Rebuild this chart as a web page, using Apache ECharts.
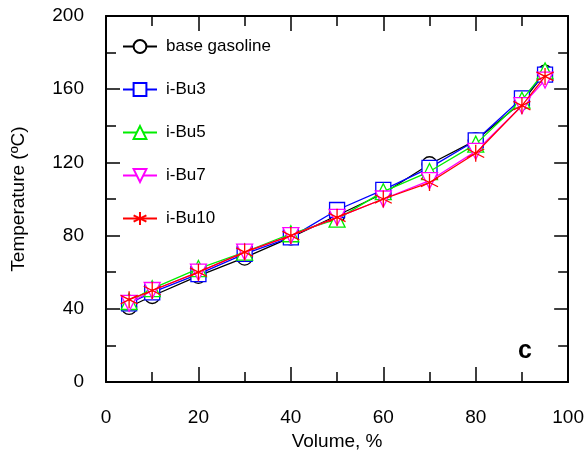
<!DOCTYPE html>
<html><head><meta charset="utf-8">
<script src="https://cdn.jsdelivr.net/npm/echarts@6/dist/echarts.min.js"></script>
<style>html,body{margin:0;padding:0;background:#fff}#c{width:587px;height:459px}</style>
</head><body><div id="c"></div>
<script>
const volume = [5, 10, 20, 30, 40, 50, 60, 70, 80, 90, 95];
const baseGasoline = [41, 47, 58, 68, 79, 91, 103, 119, 132, 153, 169];
const iBu3 = [43, 49, 59, 70, 79, 94, 105, 117, 132, 155, 168];
const iBu5 = [44, 51, 62, 71, 81, 89, 104, 115, 130, 154, 170];
const iBu7 = [43, 50, 60, 71, 80, 90, 100, 110, 126, 151, 165];
const iBu10 = [45, 50, 60, 71, 80, 90, 100, 109, 125, 151, 167];
const seriesNames = ['base gasoline', 'i-Bu3', 'i-Bu5', 'i-Bu7', 'i-Bu10'];
const xTicks = [0, 20, 40, 60, 80, 100];
const yTicks = [0, 40, 80, 120, 160, 200];

const FONT = 'Liberation Sans, Arial, sans-serif';
const asterisk = 'path://M0,-1L0,1M-0.866,-0.5L0.866,0.5M-0.866,0.5L0.866,-0.5';
const styles = [
  {color: '#000000', symbol: 'circle', size: 15},
  {color: '#0000ff', symbol: 'rect', size: 15},
  {color: '#00ee00', symbol: 'triangle', size: 16},
  {color: '#ff00ff', symbol: 'path://M0,0L2,0L1,1.7Z', size: 16},
  {color: '#ff0000', symbol: asterisk, size: 17}
];
const allData = [baseGasoline, iBu3, iBu5, iBu7, iBu10];

const chart = echarts.init(document.getElementById('c'), null, {renderer: 'canvas'});
const tickLine = {color: '#000', width: 1.5};
const axisCommon = {
  min: 0,
  axisLine: {show: true, onZero: false, lineStyle: {color: '#000', width: 2}},
  axisTick: {show: true, inside: true, length: 15, lineStyle: tickLine},
  minorTick: {show: true, splitNumber: 2, length: 10, lineStyle: tickLine},
  splitLine: {show: false}
};
chart.setOption({
  animation: false,
  backgroundColor: '#fff',
  grid: {left: 106, right: 17, top: 16, bottom: 77},
  legend: {
    orient: 'vertical', left: 117, top: 33, itemWidth: 34, itemHeight: 16, itemGap: 26,
    textStyle: {fontFamily: FONT, fontSize: 17, color: '#000', padding: [0, 0, 0, 4]},
    data: seriesNames
  },
  xAxis: [
    Object.assign({}, axisCommon, {
      type: 'value', position: 'bottom', max: 100, interval: 20,
      axisLabel: {fontFamily: FONT, fontSize: 19, color: '#000', margin: 26,
        formatter: v => (xTicks.indexOf(v) >= 0 ? String(v) : '')},
      name: 'Volume, %', nameLocation: 'middle', nameGap: 48,
      nameTextStyle: {fontFamily: FONT, fontSize: 19, color: '#000'}
    }),
    Object.assign({}, axisCommon, {
      type: 'value', position: 'top', max: 100, interval: 20,
      axisLabel: {show: false}
    })
  ],
  yAxis: [
    Object.assign({}, axisCommon, {
      type: 'value', position: 'left', max: 200, interval: 40,
      axisTick: {show: true, inside: true, length: 14, lineStyle: tickLine},
      axisLabel: {fontFamily: FONT, fontSize: 19, color: '#000', margin: 22,
        formatter: v => (yTicks.indexOf(v) >= 0 ? String(v) : '')},
      name: 'Temperature (ºC)', nameLocation: 'middle', nameGap: 78,
      nameTextStyle: {fontFamily: FONT, fontSize: 19, color: '#000'}
    }),
    Object.assign({}, axisCommon, {
      type: 'value', position: 'right', max: 200, interval: 40,
      axisTick: {show: true, inside: true, length: 14, lineStyle: tickLine},
      axisLabel: {show: false}
    })
  ],
  graphic: [{
    type: 'text', left: 518, top: 339,
    style: {text: 'c', font: 'bold 25px ' + FONT, fill: '#000'}
  }],
  series: allData.map((d, i) => ({
    name: seriesNames[i], type: 'line', xAxisIndex: 0, yAxisIndex: 0,
    data: volume.map((x, j) => [x, d[j]]),
    symbol: styles[i].symbol, symbolSize: styles[i].size, showSymbol: true,
    lineStyle: {color: styles[i].color, width: 1.3},
    itemStyle: {color: i === 4 ? styles[i].color : '#ffffff', borderColor: styles[i].color, borderWidth: 1.3},
    emphasis: {disabled: true},
    z: 2 + i
  }))
});
</script></body></html>
